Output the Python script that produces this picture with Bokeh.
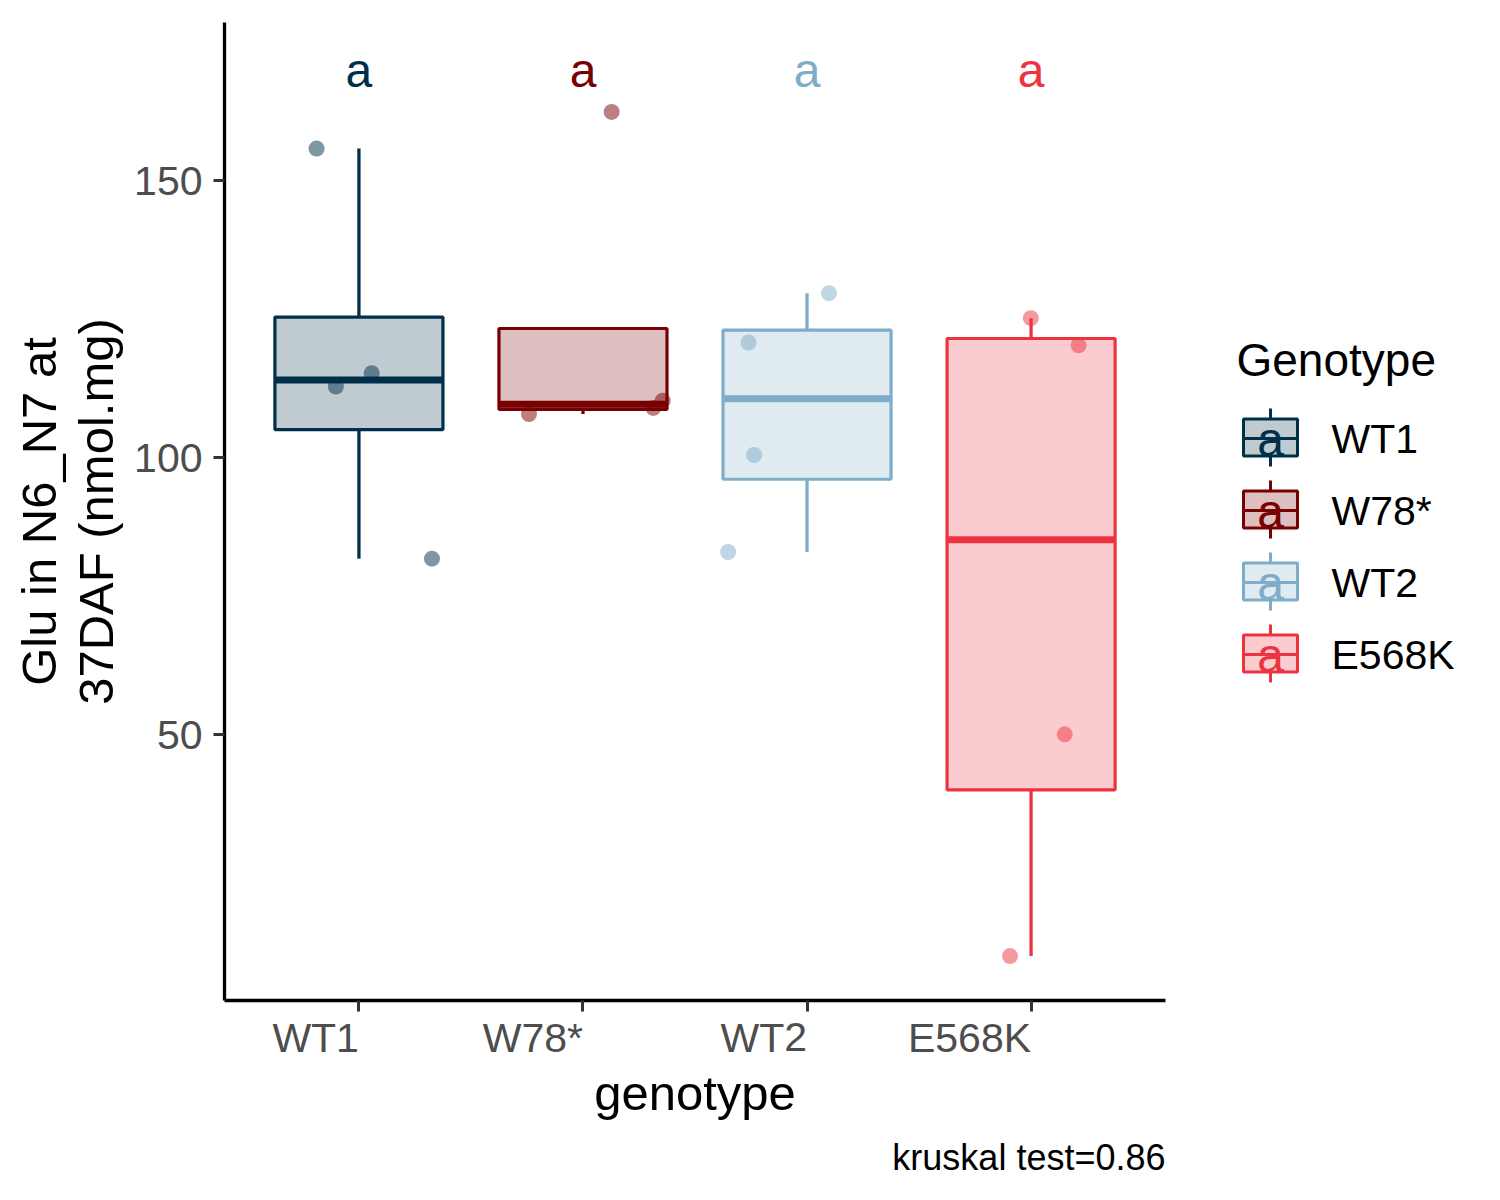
import numpy as np
from bokeh.plotting import figure
from bokeh.models import Range1d, FixedTicker, Title
from bokeh.layouts import row
from bokeh.embed import file_html
from bokeh.resources import INLINE
from bokeh.core.properties import value

# ---------------- data ----------------
genotypes = ["WT1", "W78*", "WT2", "E568K"]
colors = ["#003049", "#780000", "#7FADC9", "#EE3340"]
glu_wt1 = [81.8, 112.85, 115.26, 155.8]
glu_w78 = [107.9, 109.0, 110.3, 162.4]
glu_wt2 = [83.0, 100.5, 120.8, 129.7]
glu_e568k = [10.1, 50.1, 120.3, 125.2]
# horizontal jitter offsets of the points (category units)
jit_wt1 = [0.326, -0.103, 0.057, -0.189]
jit_w78 = [-0.241, 0.314, 0.356, 0.128]
jit_wt2 = [-0.352, -0.236, -0.261, 0.098]
jit_e568k = [-0.094, 0.150, 0.212, -0.001]
letters = ["a", "a", "a", "a"]
kruskal_p = 0.86
y_ticks = [50, 100, 150]

values = [glu_wt1, glu_w78, glu_wt2, glu_e568k]
jitters = [jit_wt1, jit_w78, jit_wt2, jit_e568k]
xpos = [1, 2, 3, 4]

FONT = "Liberation Sans"

# layout (pixels)
W_MAIN, W_LEG, H = 1180, 304, 1192
F_LEFT, F_RIGHT, F_TOP, F_BOTTOM = 224, 1165, 22, 1000
TEXT_DY = -14   # correction for where text glyph baselines land


def box_stats(v):
    v = np.asarray(v, dtype=float)
    q1, med, q3 = np.percentile(v, [25, 50, 75])
    iqr = q3 - q1
    inside = v[(v >= q1 - 1.5 * iqr) & (v <= q3 + 1.5 * iqr)]
    lo = min(q1, inside.min())
    hi = max(q3, inside.max())
    return lo, q1, med, q3, hi


all_vals = np.concatenate([np.asarray(v) for v in values])
label_y = 1.05 * all_vals.max()
ymin, ymax = all_vals.min(), label_y
pad = 0.05 * (ymax - ymin)

p = figure(width=W_MAIN, height=H, output_backend="svg", toolbar_location=None,
           x_range=Range1d(0.4, 4.6), y_range=Range1d(ymin - pad, ymax + pad),
           min_border_left=F_LEFT, min_border_right=W_MAIN - F_RIGHT,
           min_border_top=F_TOP, min_border_bottom=H - F_BOTTOM)
p.grid.visible = False
p.outline_line_color = None
p.background_fill_color = "white"
p.border_fill_color = "white"

bw = 0.375
for i, g in enumerate(genotypes):
    c = colors[i]
    x0 = xpos[i]
    # jittered points
    p.scatter([x0 + j for j in jitters[i]], values[i], size=16, fill_color=c,
              fill_alpha=0.5, line_color=None)
    lo, q1, med, q3, hi = box_stats(values[i])
    # whiskers
    p.segment(x0=[x0, x0], y0=[q3, q1], x1=[x0, x0], y1=[hi, lo],
              line_color=c, line_width=3.3)
    # box
    p.quad(left=[x0 - bw], right=[x0 + bw], bottom=[q1], top=[q3],
           fill_color=c, fill_alpha=0.25, line_color=c, line_width=3.2)
    # median
    p.segment(x0=[x0 - bw], y0=[med], x1=[x0 + bw], y1=[med],
              line_color=c, line_width=7)
    # letter
    p.text(x=[x0], y=[label_y], text=[letters[i]], text_color=c,
           text_font=value(FONT), text_font_size="48px",
           text_align="center", text_baseline="alphabetic", y_offset=18 + TEXT_DY)

# y axis
ya = p.yaxis[0]
ya.ticker = FixedTicker(ticks=y_ticks)
ya.axis_line_width = 3.3
ya.axis_line_color = "black"
ya.major_tick_line_color = "#333333"
ya.major_tick_line_width = 3
ya.major_tick_out = 11
ya.major_tick_in = 0
ya.minor_tick_line_color = None
ya.major_label_text_font = FONT
ya.major_label_text_font_size = "41px"
ya.major_label_text_color = "#4D4D4D"
ya.major_label_standoff = 11
ya.axis_label = "Glu in N6_N7 at\n37DAF (nmol.mg)"
ya.axis_label_text_font = FONT
ya.axis_label_text_font_size = "49px"
ya.axis_label_text_font_style = "normal"
ya.axis_label_text_color = "black"
ya.axis_label_text_line_height = 1.06
ya.axis_label_standoff = 8

# x axis
xa = p.xaxis[0]
xa.ticker = FixedTicker(ticks=xpos)
xa.major_label_overrides = {xpos[i]: genotypes[i] for i in range(4)}
xa.major_label_orientation = 1e-6   # makes labels right-aligned at the tick
xa.axis_line_width = 3.3
xa.axis_line_color = "black"
xa.major_tick_line_color = "#333333"
xa.major_tick_line_width = 3
xa.major_tick_out = 11
xa.major_tick_in = 0
xa.minor_tick_line_color = None
xa.major_label_text_font = FONT
xa.major_label_text_font_size = "41px"
xa.major_label_text_color = "#4D4D4D"
xa.major_label_standoff = 26
xa.axis_label = "genotype"
xa.axis_label_text_font = FONT
xa.axis_label_text_font_size = "49px"
xa.axis_label_text_font_style = "normal"
xa.axis_label_text_color = "black"
xa.axis_label_standoff = -21

cap = Title(text=f"kruskal test={kruskal_p}", align="right", text_font=FONT,
            text_font_size="36px", text_font_style="normal", text_color="black",
            standoff=24)
p.add_layout(cap, "below")

# ---------------- legend panel ----------------
# its frame is aligned with the main frame, so data units = page pixels
lf = figure(width=W_LEG, height=H, output_backend="svg", toolbar_location=None,
            x_range=Range1d(0, W_LEG), y_range=Range1d(F_BOTTOM, F_TOP),
            x_axis_location=None, y_axis_location=None, min_border=0,
            min_border_top=F_TOP, min_border_bottom=H - F_BOTTOM)
lf.grid.visible = False
lf.outline_line_color = None
lf.background_fill_color = "white"
lf.border_fill_color = "white"

lf.text(x=[56], y=[373 + TEXT_DY], text=["Genotype"], text_font=value(FONT),
        text_font_size="46px", text_color="black", text_align="left",
        text_baseline="alphabetic")
kx = 90
key_y = [437, 509, 581, 653]
for i, g in enumerate(genotypes):
    c = colors[i]
    cy = key_y[i]
    lf.segment(x0=[kx, kx], y0=[cy - 29, cy + 18.5], x1=[kx, kx], y1=[cy - 18.5, cy + 29],
               line_color=c, line_width=3)
    lf.quad(left=[kx - 27], right=[kx + 27], top=[cy - 18.5], bottom=[cy + 18.5],
            fill_color=c, fill_alpha=0.25, line_color=c, line_width=3)
    lf.segment(x0=[kx - 27], y0=[cy + 1], x1=[kx + 27], y1=[cy + 1], line_color=c, line_width=3)
    lf.text(x=[kx], y=[cy + 16 + TEXT_DY], text=[letters[i]], text_color=c,
            text_font=value(FONT), text_font_size="48px", text_align="center",
            text_baseline="alphabetic")
    lf.text(x=[151], y=[cy + 15 + TEXT_DY], text=[g], text_color="black",
            text_font=value(FONT), text_font_size="41px", text_align="left",
            text_baseline="alphabetic")

layout = row(p, lf)
open("out.html", "w").write(file_html(layout, INLINE))
